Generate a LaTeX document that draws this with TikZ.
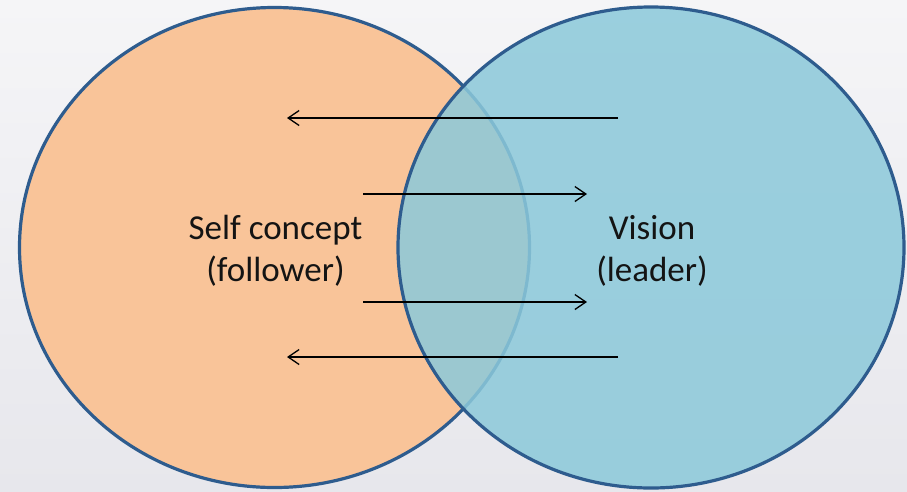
\documentclass[tikz,border=0pt]{standalone}
\usepackage{fontspec}
\setmainfont{Carlito}
\usetikzlibrary{arrows.meta}
\definecolor{bgtop}{RGB}{245,245,247}
\definecolor{bgbot}{RGB}{231,231,236}
\definecolor{orangefill}{RGB}{249,196,153}
\definecolor{bluefill}{RGB}{140,201,218}
\definecolor{rimblue}{RGB}{46,92,142}
\definecolor{textcol}{RGB}{20,20,20}
\tikzset{
  rim/.style={draw=rimblue, line width=3.2pt},
  label/.style={font=\fontsize{35}{42}\selectfont, text=textcol, align=center},
  flowarrow/.style={line width=1.3pt, -{Straight Barb[length=11pt,width=15pt,line width=1.3pt]}}
}
\begin{document}
\begin{tikzpicture}[x=1pt,y=-1pt]
  \useasboundingbox (0,0) rectangle (907,491);
  \clip (0,0) rectangle (907,491);
  \shade[top color=bgtop, bottom color=bgbot] (0,0) rectangle (907,491);
  % left ellipse
  \fill[orangefill] (274.5,247.5) ellipse [x radius=255, y radius=240];
  \draw[rim] (274.5,247.5) ellipse [x radius=255, y radius=240];
  % right ellipse (semi-transparent)
  \fill[bluefill, fill opacity=0.86] (651,247.5) ellipse [x radius=253, y radius=240.5];
  \draw[rim] (651,247.5) ellipse [x radius=253, y radius=240.5];
  % labels
  \node[label] (self) at (275.5,251) {Self concept\\(follower)};
  \node[label] (vision) at (652,251) {Vision\\(leader)};
  % arrow end points
  \coordinate (a1s) at (618,118); \coordinate (a1e) at (287,118);
  \coordinate (a2s) at (363,194); \coordinate (a2e) at (587,194);
  \coordinate (a3s) at (363,302); \coordinate (a3e) at (587,302);
  \coordinate (a4s) at (618,357); \coordinate (a4e) at (287,357);
  \draw[flowarrow] (a1s) -- (a1e);
  \draw[flowarrow] (a2s) -- (a2e);
  \draw[flowarrow] (a3s) -- (a3e);
  \draw[flowarrow] (a4s) -- (a4e);
\end{tikzpicture}
\end{document}
